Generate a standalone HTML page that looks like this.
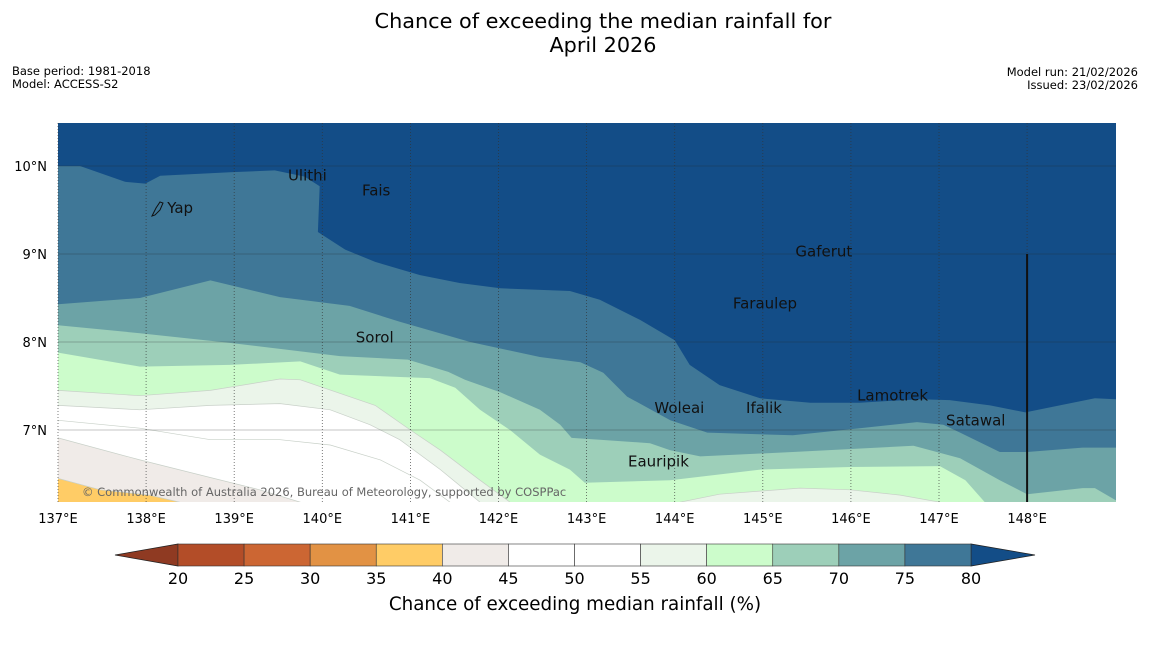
<!DOCTYPE html>
<html><head><meta charset="utf-8"><style>
body{margin:0;background:#fff;font-family:"Liberation Sans","DejaVu Sans",sans-serif;}
svg text{font-family:"DejaVu Sans","Liberation Sans",sans-serif;}
</style></head><body>
<svg id="s" width="1150" height="644" xmlns="http://www.w3.org/2000/svg">
<text x="603" y="28" text-anchor="middle" font-size="20.8" fill="#000">Chance of exceeding the median rainfall for</text>
<text x="603" y="52" text-anchor="middle" font-size="20.8" fill="#000">April 2026</text>
<text x="12" y="75" font-size="11.5">Base period: 1981-2018</text>
<text x="12" y="88" font-size="11.5">Model: ACCESS-S2</text>
<text x="1138" y="76" font-size="11.5" text-anchor="end">Model run: 21/02/2026</text>
<text x="1138" y="89" font-size="11.5" text-anchor="end">Issued: 23/02/2026</text>
<defs><clipPath id="mc"><rect x="58" y="123" width="1058" height="379"/></clipPath></defs>
<g id="map" clip-path="url(#mc)"></g>
<g id="over"></g>
<g id="cbar"></g>
<text x="575" y="610" text-anchor="middle" font-size="18.3">Chance of exceeding median rainfall (%)</text>
</svg>
<script>
const NS="http://www.w3.org/2000/svg";
const lonTicks=[137,138,139,140,141,142,143,144,145,146,147,148];
const latTicks=[10,9,8,7];
const bandColors=["#134d87","#3f7797","#6ca3a6","#9dcfb9","#ccfccb","#ebf5ea","#ffffff","#ffffff","#f0ebe8","#ffcc66"];
const levels=[80,75,70,65,60,55,50,45,40];
const line80=[[137.00,10.00],[137.25,10.00],[137.76,9.82],[137.99,9.80],[138.16,9.89],[138.95,9.93],[139.46,9.95],[139.80,9.88],[139.97,9.77],[139.95,9.25],[140.26,9.05],[140.60,8.91],[141.11,8.76],[141.56,8.67],[142.02,8.61],[142.81,8.58],[143.15,8.48],[143.61,8.25],[144.00,8.02],[144.17,7.74],[144.51,7.51],[144.97,7.36],[145.54,7.31],[146.10,7.31],[146.78,7.35],[147.12,7.34],[147.58,7.28],[147.98,7.20],[148.37,7.28],[148.77,7.36],[149.01,7.35]];
const line75=[[137.00,8.43],[137.93,8.50],[138.73,8.70],[139.52,8.51],[140.31,8.41],[140.88,8.23],[141.68,8.00],[142.47,7.83],[142.93,7.77],[143.19,7.65],[143.46,7.38],[143.95,7.11],[144.37,6.97],[145.34,6.94],[146.10,7.02],[146.75,7.09],[147.05,7.06],[147.24,6.97],[147.69,6.75],[148.00,6.75],[148.63,6.80],[149.01,6.80]];
const line70=[[137.00,8.19],[137.93,8.10],[138.95,7.99],[140.20,7.84],[140.97,7.80],[141.43,7.66],[141.62,7.57],[142.02,7.43],[142.47,7.23],[142.70,7.06],[142.83,6.91],[143.15,6.89],[143.72,6.85],[143.95,6.77],[144.29,6.70],[145.34,6.75],[146.71,6.82],[147.24,6.68],[147.69,6.43],[148.00,6.27],[148.63,6.34],[148.77,6.34],[149.01,6.20]];
const line65=[[137.00,7.88],[137.93,7.72],[138.95,7.74],[139.75,7.78],[140.20,7.63],[141.22,7.59],[141.51,7.48],[141.79,7.23],[142.13,7.00],[142.47,6.72],[142.81,6.55],[142.98,6.40],[143.95,6.43],[144.97,6.55],[145.99,6.58],[147.01,6.59],[147.30,6.43],[147.52,6.18],[147.6,5.98],[149.01,5.98]];
const line60=[[137.00,7.45],[137.93,7.39],[138.73,7.45],[139.52,7.58],[139.75,7.57],[140.60,7.28],[141.00,7.00],[141.34,6.77],[141.79,6.43],[142.13,6.18],[142.24,5.98],[143.95,5.98],[144.06,6.18],[144.51,6.27],[145.42,6.34],[145.99,6.32],[146.56,6.26],[147.01,6.18],[147.24,5.98],[149.01,5.98]];
const line55=[[137.00,7.28],[137.93,7.23],[138.73,7.28],[139.52,7.30],[140.09,7.23],[140.54,7.06],[140.88,6.89],[141.34,6.55],[141.68,6.27],[141.79,6.18],[141.9,5.98],[149.01,5.98]];
const line50=[[137.00,7.11],[137.93,7.02],[138.73,6.89],[139.52,6.89],[140.09,6.83],[140.66,6.66],[141.11,6.43],[141.45,6.18],[141.5,5.98],[149.01,5.98]];
const line45=[[137.00,6.91],[137.93,6.66],[138.61,6.49],[139.29,6.32],[139.75,6.18],[139.8,5.98],[149.01,5.98]];
const line40=[[137.00,6.45],[137.48,6.32],[138.04,6.26],[138.38,6.18],[138.4,5.98],[149.01,5.98]];
const islandNames=["Yap","Ulithi","Fais","Gaferut","Faraulep","Sorol","Woleai","Ifalik","Lamotrek","Satawal","Eauripik"];
const islandLon=[138.24,139.61,140.45,145.37,144.66,140.38,143.77,144.81,146.07,147.08,143.47];
const islandLat=[9.52,9.89,9.72,9.03,8.44,8.05,7.25,7.25,7.39,7.11,6.64];
const cbLevels=[20,25,30,35,40,45,50,55,60,65,70,75,80];
const cbColors=["#b34d28","#cc6633","#e29244","#ffcc66","#f0ebe8","#ffffff","#ffffff","#ebf5ea","#ccfccb","#9dcfb9","#6ca3a6","#3f7797"];

const X=lon=>58+(lon-137)*88.1;
const Y=lat=>166-(lat-10)*88;
const CX=v=>178+(v-20)*(793/60);
function mk(tag,attrs,parent){const e=document.createElementNS(NS,tag);for(const k in attrs)e.setAttribute(k,attrs[k]);parent.appendChild(e);return e;}
const map=document.getElementById('map'),over=document.getElementById('over'),cbar=document.getElementById('cbar');
let bg=mk('rect',{x:58,y:123,width:1058,height:379,fill:bandColors[0]},map);


const lines=[line80,line75,line70,line65,line60,line55,line50,line45,line40];
lines.forEach((ln,i)=>{
  let d='M'+ln.map(p=>X(p[0]).toFixed(1)+','+Y(p[1]).toFixed(1)).join(' L');
  d+=' L'+X(149.2)+','+Y(5.9)+' L'+X(136.8)+','+Y(5.9)+' Z';
  const p=mk('path',{d:d,fill:bandColors[i+1],stroke:(levels[i]<=60?'#c8d0c8':'none'),'stroke-width':0.7},map);
  
  
});
lonTicks.forEach(l=>{
  const g=mk('line',{x1:X(l),x2:X(l),y1:123,y2:502,stroke:'#333','stroke-width':0.8,'stroke-dasharray':'1,2','stroke-opacity':0.8},over);
  
  
  const t=mk('text',{x:X(l),y:523,'text-anchor':'middle','font-size':13},over);t.textContent=l+'°E';
  
  
});
latTicks.forEach(l=>{
  const g=mk('line',{x1:58,x2:1116,y1:Y(l),y2:Y(l),stroke:'#222','stroke-width':0.8,'stroke-opacity':0.35},over);
  
  
  const t=mk('text',{x:47,y:Y(l)+5,'text-anchor':'end','font-size':13},over);t.textContent=l+'°N';
  
  
});
let bl=mk('line',{x1:X(148),x2:X(148),y1:Y(9),y2:502,stroke:'#111','stroke-width':2},over);


let yap=mk('path',{d:'M152,216 L156,208 L160,202 L163,203 L160,210 L155,215 Z',fill:'none',stroke:'#111','stroke-width':1},over);


islandNames.forEach((n,i)=>{
  const t=mk('text',{x:X(islandLon[i]),y:Y(islandLat[i])+5,'font-size':15,fill:'#111'},over);t.textContent=n;
  
  
});
let cp=mk('text',{x:82,y:496,'font-size':11.5,fill:'#666'},over);cp.textContent='© Commonwealth of Australia 2026, Bureau of Meteorology, supported by COSPPac';


let lt=mk('polygon',{points:`115,555 ${CX(20)},544 ${CX(20)},566`,fill:'#8f3a22',stroke:'#222','stroke-width':0.8},cbar);


let rt=mk('polygon',{points:`1035,555 ${CX(80)},544 ${CX(80)},566`,fill:'#134d87',stroke:'#222','stroke-width':0.8},cbar);


cbColors.forEach((c,i)=>{
  const r=mk('rect',{x:CX(cbLevels[i]),y:544,width:CX(cbLevels[i+1])-CX(cbLevels[i]),height:22,fill:c,stroke:'#333','stroke-width':0.6},cbar);
  
  
});
cbLevels.forEach(v=>{
  const t=mk('text',{x:CX(v),y:584,'text-anchor':'middle','font-size':16},cbar);t.textContent=v;
  
  
});
</script>
</body></html>
